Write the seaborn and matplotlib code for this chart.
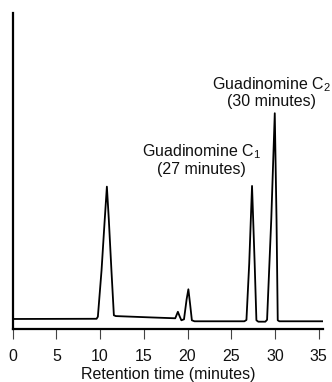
import pandas as pd
import matplotlib
matplotlib.use("Agg")
import matplotlib.pyplot as plt
import seaborn as sns

tempo = [0.0, 9.6, 9.75, 10.17, 10.5, 10.78, 11.0, 11.3, 11.58, 11.8,
         13.0, 16.0, 18.6, 18.9, 19.1, 19.3, 19.6, 19.9, 20.1, 20.3,
         20.5, 20.8, 26.5, 26.74, 27.06, 27.38, 27.68, 27.88, 28.1, 28.9,
         29.1, 29.58, 29.98, 30.18, 30.32, 30.5, 35.5]
sinal = [10.3, 10.5, 12.6, 59, 105, 142.6, 110, 59, 14, 13.2,
         12.8, 11.8, 11.0, 17.5, 13, 9, 10, 30, 40, 25,
         9, 8, 8, 9.3, 66, 143.3, 66, 9, 7.6, 7.6,
         9.5, 110, 216, 110, 9, 8, 8]
rotulos_x = [0, 5, 10, 15, 20, 25, 30, 35]

df = pd.DataFrame({'tempo': tempo, 'sinal': sinal})

sns.set_style("white")
plt.rcParams['font.family'] = ['Liberation Sans', 'DejaVu Sans']
plt.rcParams['mathtext.default'] = 'regular'
plt.rcParams['text.color'] = '#111111'
plt.rcParams['axes.labelcolor'] = '#111111'
plt.rcParams['xtick.labelcolor'] = '#111111'

fig = plt.figure(figsize=(3.32, 3.82), dpi=100)
ax = fig.add_axes([0.038, 0.138, 0.935, 0.829])

sns.lineplot(data=df, x='tempo', y='sinal', ax=ax, color='black',
             linewidth=1.3, sort=False)

ax.set_xlim(0, 35.5)
ax.set_ylim(0, 316.6)
ax.set_xticks(rotulos_x)
ax.set_yticks([])
ax.set_xlabel('Retention time (minutes)', fontsize=11.5, labelpad=2.5)
ax.set_ylabel('')
ax.tick_params(axis='x', direction='out', length=7.5, width=0.8,
               labelsize=11.5, pad=6.5, bottom=True, color='#444444')

for lado in ['top', 'right']:
    ax.spines[lado].set_visible(False)
for lado in ['left', 'bottom']:
    ax.spines[lado].set_color('black')
    ax.spines[lado].set_linewidth(1.6)

# Anotações dos picos
ax.text(21.6, 172.5, 'Guadinomine C$_1$', ha='center', va='baseline', fontsize=11.5)
ax.text(21.6, 155.5, '(27 minutes)', ha='center', va='baseline', fontsize=11.5)
ax.text(29.6, 239.5, 'Guadinomine C$_2$', ha='center', va='baseline', fontsize=11.5)
ax.text(29.6, 223.5, '(30 minutes)', ha='center', va='baseline', fontsize=11.5)

plt.savefig('out.png', dpi=100)
plt.close()
